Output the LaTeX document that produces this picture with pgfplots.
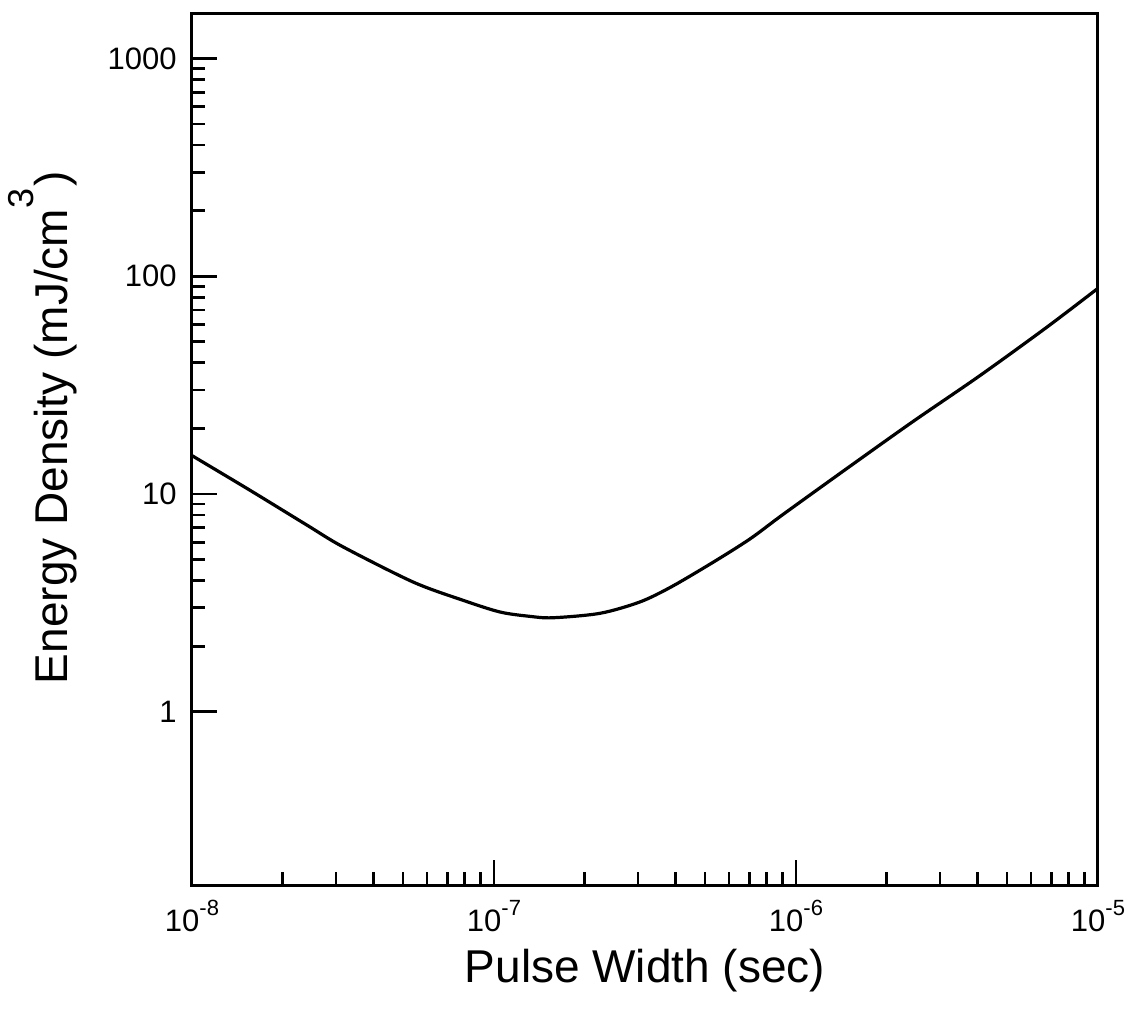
\documentclass[border=0pt]{standalone}
\usepackage{fontspec}
\setmainfont{Liberation Sans}
\usepackage{pgfplots}
\pgfplotsset{compat=1.18}
\newcommand\sups[1]{\raisebox{0.5em}{\fontsize{11}{11}\selectfont #1}}
\begin{document}
\begin{tikzpicture}
\begin{axis}[
  at={(0,0)}, anchor=south west,
  scale only axis, width=453pt, height=435.5pt,
  xmode=log, ymode=log,
  xmin=1e-8, xmax=1e-5, ymin=0.16, ymax=1600,
  axis line style={line width=1.5pt},
  every tick/.style={line width=1.4pt, black},
  major tick length=12.5pt, minor tick length=6.5pt,
  tick align=inside,
  xtick pos=bottom, ytick pos=left,
  xtick={1e-8,1e-7,1e-6,1e-5},
  xticklabels={10\sups{-8},10\sups{-7},10\sups{-6},10\sups{-5}},
  ytick={1,10,100,1000},
  yticklabels={1,10,100,1000},
  x tick label style={font=\fontsize{15.5}{15.5}\selectfont, anchor=base, inner sep=0pt, yshift=-23pt},
  y tick label style={font=\fontsize{15.5}{15.5}\selectfont, anchor=east, inner sep=0pt, xshift=-7.5pt},
  xlabel={Pulse Width (sec)},
  ylabel={Energy Density (mJ/cm\raisebox{0.75em}{\fontsize{18}{18}\selectfont 3}\kern1pt)},
  label style={font=\fontsize{23}{23}\selectfont, inner sep=0pt},
  xlabel style={at={(axis description cs:0.5,-0.1125)}, anchor=base},
  ylabel style={at={(axis description cs:-0.137,0.525)}, anchor=base},
]
\addplot[black, line width=1.6pt, smooth] coordinates {
(1e-8,15.0)
(1.556e-8,10.4)
(2.40e-8,7.20)
(3.16e-8,5.72)
(5.40e-8,3.94)
(7.89e-8,3.25)
(1.047e-7,2.87)
(1.316e-7,2.74)
(1.567e-7,2.70)
(2.244e-7,2.83)
(3.04e-7,3.19)
(3.86e-7,3.74)
(5.31e-7,4.85)
(7.05e-7,6.22)
(9.06e-7,8.05)
(1.51e-6,13.4)
(2.44e-6,21.5)
(4.06e-6,34.9)
(6.76e-6,58.2)
(1e-5,88.0)
};
\end{axis}
\pgfresetboundingbox
\useasboundingbox (-96pt,-63pt) rectangle (469pt,442.5pt);
\end{tikzpicture}
\end{document}
